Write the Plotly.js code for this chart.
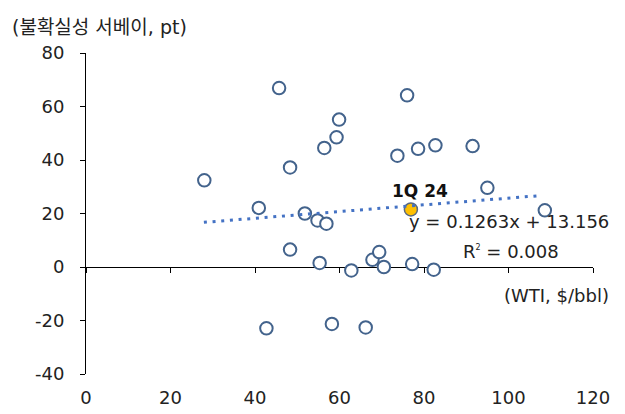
<!DOCTYPE html>
<html>
<head>
<meta charset="utf-8">
<script src="https://cdn.plot.ly/plotly-3.0.1.min.js"></script>
<style>html,body{margin:0;padding:0;background:#fff;}#chart{width:625px;height:414px;}</style>
</head>
<body>
<div id="chart"></div>
<script>
// WTI price ($/bbl) vs uncertainty survey (pt)
const wti    = [28.0, 40.9, 42.7, 45.7, 48.3, 48.3, 51.8, 54.8, 55.3, 56.4, 56.9, 58.2, 59.3, 59.9,
                62.8, 66.2, 67.8, 69.4, 70.5, 73.7, 76.0, 77.2, 78.6, 82.3, 82.7, 91.5, 95.0, 108.6];
const survey = [32.4, 22.1, -22.9, 66.9, 37.2, 6.5, 20.0, 17.4, 1.5, 44.5, 16.2, -21.3, 48.5, 55.1,
                -1.3, -22.6, 2.7, 5.6, 0.0, 41.6, 64.2, 1.1, 44.2, -1.0, 45.5, 45.2, 29.6, 21.2];
// highlighted latest quarter
const hlX = [76.9];
const hlY = [21.5];
const hlLabel = ['1Q 24'];
// linear trendline as drawn (ends)
const trendX = [27.9, 107.6];
const trendY = [16.7, 26.7];
const eqText = 'y = 0.1263x + 13.156';
const r2Text = 'R<sup><span style="font-size:8px">2</span></sup> = 0.008';
const xTicks = [0, 20, 40, 60, 80, 100, 120];
const xTickText = ['0', '20', '40', '60', '80', '100', '120'];
const yTicks = [-40, -20, 0, 20, 40, 60, 80];
const yTickText = ['-40', '-20', '0', '20', '40', '60', '80'];

const FONT = '"DejaVu Sans", "Noto Sans CJK KR", sans-serif';
const TXT = '#222222';

const traces = [
  {
    x: wti, y: survey, type: 'scatter', mode: 'markers',
    xaxis: 'x', yaxis: 'y',
    marker: {symbol: 'circle', size: 12.5, color: '#ffffff', line: {color: '#43638C', width: 2}},
    hoverinfo: 'x+y'
  },
  {
    x: hlX, y: hlY, type: 'scatter', mode: 'markers',
    xaxis: 'x', yaxis: 'y',
    marker: {symbol: 'circle', size: 13, color: '#FFC000', line: {color: '#5A6A80', width: 1.5}},
    hoverinfo: 'x+y'
  },
  {
    x: trendX, y: trendY, type: 'scatter', mode: 'lines',
    xaxis: 'x2', yaxis: 'y',
    line: {color: '#4472C4', width: 3, dash: '3px,5.7px'},
    hoverinfo: 'skip'
  }
];

const layout = {
  width: 625, height: 414,
  margin: {l: 86, r: 32, t: 53, b: 40, pad: 0},
  paper_bgcolor: '#ffffff', plot_bgcolor: '#ffffff',
  showlegend: false,
  font: {family: FONT, size: 18, color: TXT},
  title: {
    text: '(불확실성 서베이, pt)',
    font: {family: FONT, size: 19, color: TXT},
    x: 12/625, xanchor: 'left', xref: 'container',
    y: 1 - 27/414, yanchor: 'middle', yref: 'container'
  },
  xaxis: {
    range: [0, 120], tickvals: xTicks,
    anchor: 'free', position: 1/3,
    showline: true, linecolor: '#000000', linewidth: 1,
    ticks: 'outside', ticklen: 5, tickcolor: '#000000', tickwidth: 1,
    showticklabels: false, showgrid: false, zeroline: false,
    layer: 'below traces', fixedrange: true
  },
  xaxis2: {
    range: [0, 120], tickvals: xTicks, ticktext: xTickText,
    overlaying: 'x', anchor: 'y', side: 'bottom',
    showline: false, ticks: '', showgrid: false, zeroline: false,
    ticklabelstandoff: 11,
    tickfont: {family: FONT, size: 18, color: TXT}, fixedrange: true
  },
  yaxis: {
    range: [-40, 80], tickvals: yTicks, ticktext: yTickText,
    showline: true, linecolor: '#000000', linewidth: 1,
    ticks: 'outside', ticklen: 5, tickcolor: '#000000', tickwidth: 1,
    ticklabelstandoff: 12,
    showgrid: false, zeroline: false,
    tickfont: {family: FONT, size: 18, color: TXT}, fixedrange: true
  },
  annotations: [
    {x: hlX[0], y: hlY[0], xref: 'x', yref: 'y', text: '<b>' + hlLabel[0] + '</b>',
     showarrow: false, xshift: 9, yshift: 18, font: {family: FONT, size: 17, color: '#111111'}},
    {x: 1.036, y: 0.474, xref: 'paper', yref: 'paper', text: eqText, showarrow: false,
     xanchor: 'right', yanchor: 'middle', font: {family: FONT, size: 18, color: TXT}},
    {x: 0.838, y: 0.381, xref: 'paper', yref: 'paper', text: r2Text, showarrow: false,
     xanchor: 'center', yanchor: 'middle', font: {family: FONT, size: 18, color: TXT}},
    {x: 1.036, y: 0.246, xref: 'paper', yref: 'paper', text: '(WTI, $/bbl)', showarrow: false,
     xanchor: 'right', yanchor: 'middle', font: {family: FONT, size: 18, color: TXT}}
  ]
};

Plotly.newPlot('chart', traces, layout, {staticPlot: true, displayModeBar: false});
</script>
</body>
</html>
